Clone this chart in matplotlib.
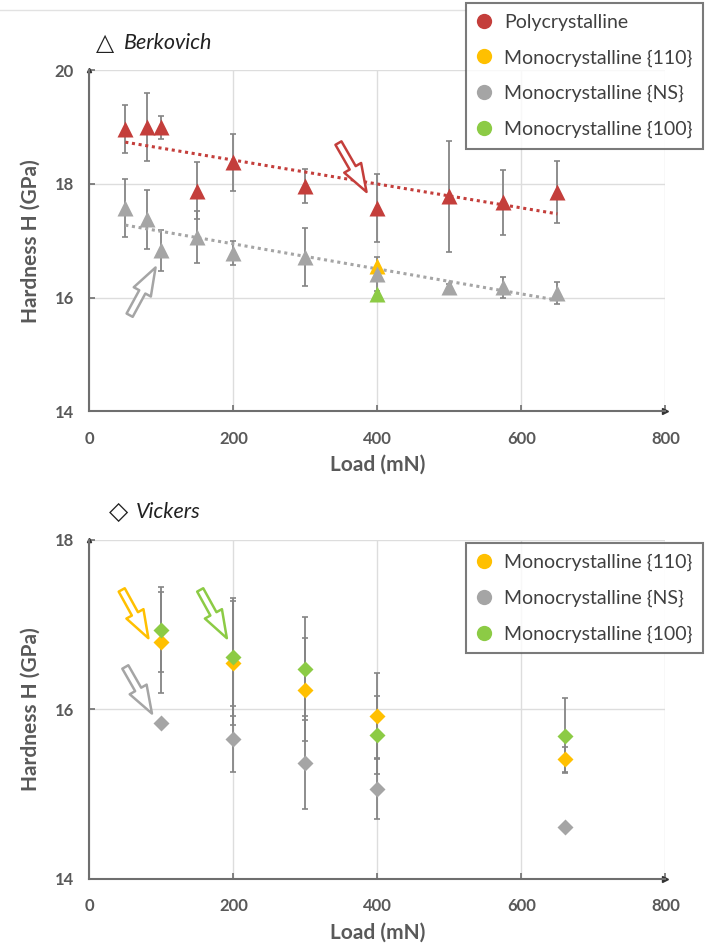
import numpy as np
import matplotlib.pyplot as plt
from matplotlib.lines import Line2D

plt.rcParams['font.family'] = ['Lato', 'DejaVu Sans']

# --- Berkovich data ---
berk_load = [50, 80, 100, 150, 200, 300, 400, 500, 575, 650]
poly_h = [18.97, 19.0, 19.0, 17.88, 18.38, 17.97, 17.57, 17.78, 17.68, 17.86]
poly_err = [0.42, 0.6, 0.2, 0.5, 0.5, 0.3, 0.6, 0.97, 0.57, 0.55]
ns_h = [17.58, 17.38, 16.83, 17.07, 16.79, 16.72, 16.42, 16.19, 16.18, 16.08]
ns_err = [0.51, 0.52, 0.36, 0.46, 0.21, 0.51, 0.3, 0.05, 0.19, 0.2]
b110_load = [400]
b110_h = [16.55]
b100_load = [400]
b100_h = [16.07]

# --- Vickers data ---
vick_load = [100, 200, 300, 400, 660]
v110_h = [16.79, 16.55, 16.23, 15.92, 15.41]
v110_err = [0.6, 0.73, 0.61, 0.51, 0.15]
vns_h = [15.84, 15.65, 15.37, 15.06, 14.61]
vns_err = [0, 0.39, 0.55, 0.36, 0]
v100_h = [16.94, 16.62, 16.48, 15.70, 15.69]
v100_err = [0.5, 0.7, 0.61, 0.46, 0.44]

labels = ['Polycrystalline', 'Monocrystalline {110}', 'Monocrystalline {NS}', 'Monocrystalline {100}']
RED, YEL, GRY, GRN = '#C43E3B', '#FFC000', '#A5A5A5', '#8CCB45'
colors = [RED, YEL, GRY, GRN]
ECOL = '#858585'
TXT = '#595959'

fig = plt.figure(figsize=(7.1, 9.47), dpi=100)
ax1 = fig.add_axes([0.1258, 0.5658, 0.8113, 0.3599])
ax2 = fig.add_axes([0.1258, 0.0722, 0.8113, 0.3576])


def style(ax, ylo, yhi):
    ax.set_xlim(0, 800)
    ax.set_ylim(ylo, yhi)
    ax.set_xticks([0, 200, 400, 600, 800])
    ax.set_yticks(np.arange(ylo, yhi + 1, 2))
    ax.grid(True, color='#DDDDDD', lw=1)
    ax.set_axisbelow(True)
    for s in ['top', 'right']:
        ax.spines[s].set_visible(False)
    for s in ['left', 'bottom']:
        ax.spines[s].set_color('#6E6E6E')
        ax.spines[s].set_linewidth(1.5)
    ax.tick_params(direction='in', length=4, width=1.2, color='#6E6E6E',
                   labelsize=12, labelcolor=TXT, pad=11)
    ax.tick_params(axis='x', pad=14)
    for t in ax.get_xticklabels() + ax.get_yticklabels():
        t.set_fontweight('bold')
    ax.set_xlabel('Load (mN)', fontsize=15, fontweight='bold', color=TXT, labelpad=6)
    ax.set_ylabel('Hardness H (GPa)', fontsize=15, fontweight='bold', color=TXT, labelpad=10)
    ax.plot(1, 0, marker='>', color='#333333', ms=4, transform=ax.transAxes, clip_on=False)
    ax.plot(0, 1, marker='^', color='#333333', ms=3, transform=ax.transAxes, clip_on=False)


style(ax1, 14, 20)
style(ax2, 14, 18)

# --- Berkovich panel ---
for yv, ev in [(poly_h, poly_err), (ns_h, ns_err)]:
    ax1.errorbar(berk_load, yv, yerr=ev, fmt='none', ecolor=ECOL, elinewidth=1.3,
                 capsize=2.2, capthick=1.2, zorder=2)
for yv, c in [(poly_h, RED), (ns_h, GRY)]:
    k, b = np.polyfit(berk_load, yv, 1)
    xx = np.array([berk_load[0], berk_load[-1]])
    ax1.plot(xx, k * xx + b, color=c, lw=2.2, ls=(0, (1, 1.2)), zorder=2.5)
ax1.plot(berk_load, poly_h, '^', color=RED, ms=12, mec='none', zorder=3)
ax1.plot(b110_load, b110_h, '^', color=YEL, ms=12, mec='none', zorder=3)
ax1.plot(berk_load, ns_h, '^', color=GRY, ms=12, mec='none', zorder=3)
ax1.plot(b100_load, b100_h, '^', color=GRN, ms=12, mec='none', zorder=3)

# --- Vickers panel ---
for yv, ev in [(v110_h, v110_err), (vns_h, vns_err), (v100_h, v100_err)]:
    ax2.errorbar(vick_load, yv, yerr=ev, fmt='none', ecolor=ECOL, elinewidth=1.3,
                 capsize=2.2, capthick=1.2, zorder=2)
ax2.plot(vick_load, v110_h, 'D', color=YEL, ms=8.5, mec='none', zorder=3)
ax2.plot(vick_load, vns_h, 'D', color=GRY, ms=8.5, mec='none', zorder=3)
ax2.plot(vick_load, v100_h, 'D', color=GRN, ms=8.5, mec='none', zorder=3)


def arrow(ax, tail, head, c):
    ax.annotate('', xy=head, xytext=tail,
                arrowprops=dict(arrowstyle='simple,head_length=1.0,head_width=0.7,tail_width=0.25',
                                fc='white', ec=c, lw=1.8, mutation_scale=20,
                                shrinkA=0, shrinkB=0), zorder=4)


arrow(ax1, (346, 18.72), (385, 17.86), RED)
arrow(ax1, (56, 15.69), (92, 16.53), GRY)
arrow(ax2, (45, 17.41), (82, 16.84), YEL)
arrow(ax2, (154, 17.41), (191, 16.84), GRN)
arrow(ax2, (50, 16.5), (87, 15.95), GRY)

# --- titles ---
fig.text(96 / 710, 1 - 43 / 947, '\u25b3', fontsize=17, color='#222222',
         family=['DejaVu Sans'], va='center')
fig.text(124 / 710, 1 - 43 / 947, 'Berkovich', fontsize=15.5, style='italic',
         color='#222222', va='center')
fig.text(109 / 710, 1 - 512 / 947, '\u25c7', fontsize=18, color='#222222',
         family=['DejaVu Sans'], va='center')
fig.text(136 / 710, 1 - 512 / 947, 'Vickers', fontsize=15.5, style='italic',
         color='#222222', va='center')

# faint chart border at top
fig.add_artist(Line2D([0, 466 / 710], [1 - 10 / 947] * 2, color='#E2E2E2', lw=1))


def legend(idx, anchor):
    handles = [Line2D([], [], ls='none', marker='o', ms=11, color=colors[i], mec='none')
               for i in idx]
    lg = fig.legend(handles, [labels[i] for i in idx], loc='upper left',
                    bbox_to_anchor=anchor, frameon=True, fancybox=False,
                    fontsize=14, labelcolor='#404040', handlelength=0.8,
                    handletextpad=0.6, labelspacing=0.95, borderpad=0.55,
                    borderaxespad=0)
    lg.get_frame().set_edgecolor('#595959')
    lg.get_frame().set_linewidth(1.5)


legend([0, 1, 2, 3], (466 / 710, 1 - 3 / 947))
legend([1, 2, 3], (466 / 710, 1 - 543 / 947))

fig.savefig('out.png', dpi=100)
